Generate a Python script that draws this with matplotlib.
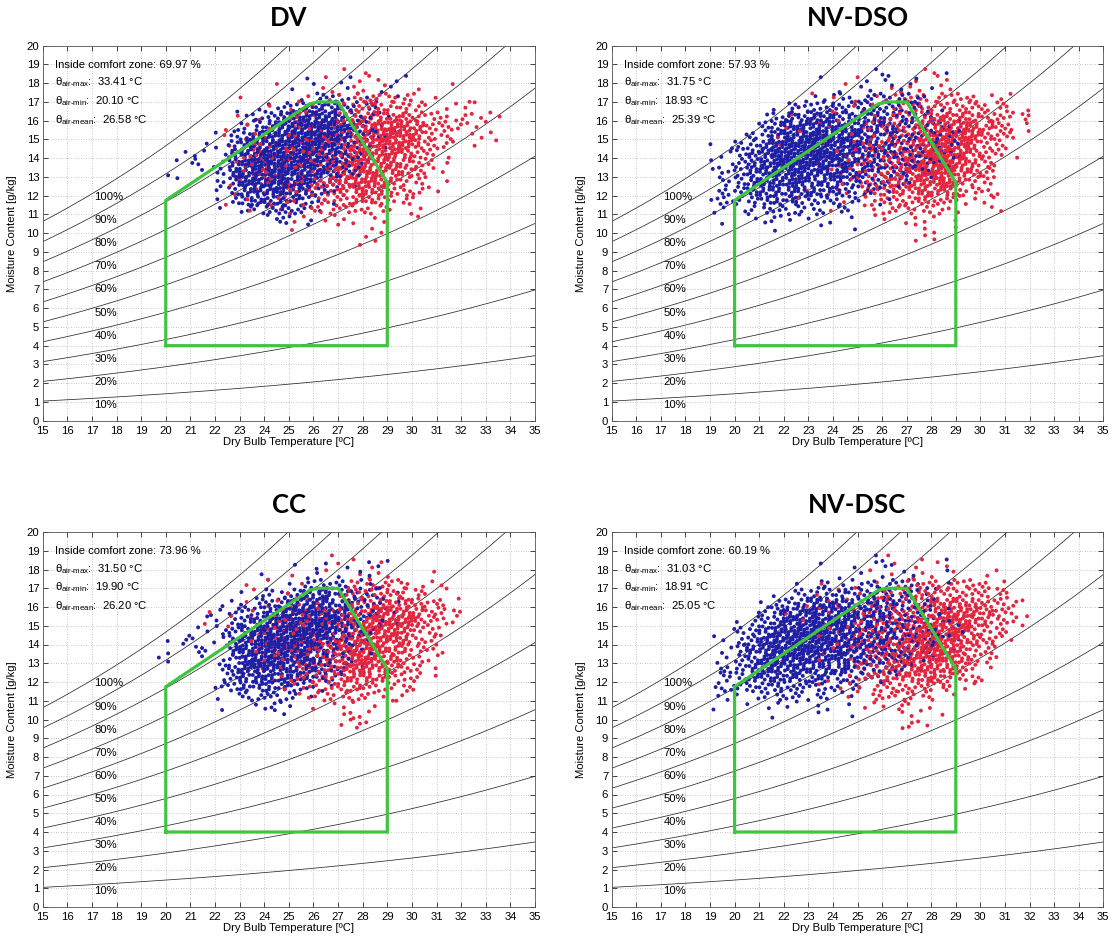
"""
Psychrometric charts of indoor air states for four ventilation strategies.
"""

import numpy as np
import matplotlib.pyplot as plt

plt.rcParams.update({
    'font.family': 'Liberation Sans',
    'font.size': 8.1,
    'mathtext.fontset': 'custom',
    'mathtext.rm': 'Liberation Sans',
    'mathtext.it': 'Liberation Sans:italic',
    'mathtext.bf': 'Liberation Sans:bold',
})

BLUE = '#1f1fa5'
RED = '#e3263f'
GREEN = '#3ec43e'

# relative humidity curves and their labels
RH_LEVELS = [10, 20, 30, 40, 50, 60, 70, 80, 90, 100]
RH_LABEL_Y = [0.85, 2.08, 3.31, 4.54, 5.77, 7.0, 8.23, 9.46, 10.69, 11.92]

# comfort zone outline (T [C], w [g/kg])
COMFORT_T = [20, 29, 29, 27, 26.2, 25.85, 20, 20]
COMFORT_W = [4, 4, 12.7, 17.0, 17.0, 16.9, 11.75, 4]

PANELS = ['DV', 'NV-DSO', 'CC', 'NV-DSC']
COMFORT_SHARE = [69.97, 57.93, 73.96, 60.19]
T_MAX = [33.41, 31.75, 31.50, 31.03]
T_MIN = [20.10, 18.93, 19.90, 18.91]
T_MEAN = [26.58, 25.39, 26.20, 25.05]

# hourly air states: density level (0-9) per 0.5 C x 0.5 g/kg cell read off the
# charts. columns start at 19.0 C, rows start at 18.5 g/kg going down
CELL = 0.5
T0 = 19.0
W_TOP = 18.5
POINTS_PER_LEVEL = 1.5

DV_BLUE = [
    "..... ..... ..... ..... ..... .....",
    "..... ..... ...1. .11.. 11... .....",
    "..... ..... ..1.1 .1..1 1.... .....",
    "..... ..... ...12 22111 1.... .....",
    "..... ....1 12345 53221 ..... .....",
    "..... ..112 34567 64321 1.... .....",
    "..... ..123 56789 86321 1.... .....",
    "..... .1235 67899 96322 1.... .....",
    "..... 11356 78899 85321 ..... .....",
    "...11 11467 88888 6431. ..... .....",
    "..1.2 11578 98887 6421. ..... .....",
    "..1.1 .2578 88876 532.. ..... .....",
    "..1.. .2467 88765 421.. ..... .....",
    "..... .1356 77653 21... ..... .....",
    "..... .1244 55432 1.... ..... .....",
    "..... .1.22 34321 ..... ..... .....",
    "..... ..... 1311. ..... ..... .....",
    "..... ..... ...1. ..... ..... .....",
]
DV_RED = [
    "..... ..... ..... .1.1. ..... .....",
    "..... ..... ..... 1.111 ..... .....",
    "..... ..... .1..1 1.111 ..1.. 1....",
    "..... ...1. ..11. 11222 2211. .1...",
    "..... ..... 1.111 .2333 33211 111..",
    "..... ..1.1 .1211 12344 44322 12111",
    "..... .1.1. 11221 22456 66533 2111.",
    "..... .1.11 11222 23467 77532 1111.",
    "..... ..112 22222 23567 76432 1.11.",
    "..... ..122 22222 34566 65321 .....",
    "..... ..112 22222 34666 54321 .....",
    "..... ..112 22223 35676 54311 .....",
    "..... ..111 22223 45665 43211 .....",
    "..... ..1.1 11222 34554 33211 .....",
    "..... .1.1. 12112 23443 221.. .....",
    "..... ...1. 11112 22222 111.. .....",
    "..... ..... ..111 11111 ..1.. .....",
    "..... ..... ..1.. .1.11 ..... .....",
    "..... ..... ..... ...11 ..... .....",
    "..... ..... ..... ..1.. ..... .....",
]

NVDSO_BLUE = [
    "..... ..... ...1. ....1 ..... .....",
    "..... ....1 ..1.2 .1... ..... .....",
    "..... ..... 1.111 11.1. ..... .....",
    "..... ..111 21222 221.. ..... .....",
    "..... 12233 33333 2211. ..... .....",
    "....1 24455 54444 3221. ..... .....",
    "...12 46676 65554 32221 1.... .....",
    "..123 57787 76554 33222 1.... .....",
    "11235 78888 76554 33222 1.... .....",
    "11346 88888 76544 33322 1.... .....",
    "11346 88887 76543 33221 ..... .....",
    "21356 77776 65443 3221. ..... .....",
    "12356 66655 54332 211.. ..... .....",
    "12345 55544 43221 1.... ..... .....",
    "22234 44333 22111 ..... ..... .....",
    "11122 22221 21... ..... ..... .....",
    "1..11 21111 .1... ..... ..... .....",
    "..... 1...1 .1... ..... ..... .....",
]
NVDSO_RED = [
    "..... ..... ..... ..11. ..... .....",
    "..... ..... ..1.. .1.11 ..... .....",
    "..... ..... .1..1 11111 ..... .....",
    "..... ...1. 11.11 22222 22111 .....",
    "..... ..1.1 .1111 22233 33221 1....",
    "..... .1.1. 11112 22345 54332 2....",
    "..... .1.11 11222 22456 65432 1....",
    "..... 1.1.1 11222 33567 76432 1....",
    "..... 1..11 12223 34677 75321 .....",
    "..... ..1.1 12223 45788 64321 .....",
    "..... ...1. 11223 45798 6431. .....",
    "..... ....1 11223 45798 5421. .....",
    "..... ..... 11224 45676 4321. .....",
    "..... ..1.1 11234 44554 3221. .....",
    "..... ..1.. 1.123 33433 2111. .....",
    "..... ....1 ..112 22221 1.11. .....",
    "..... ..... ...11 11111 ..... .....",
    "..... ..... ..... .1111 ..... .....",
    "..... ..... ..... .111. ..... .....",
]

CC_BLUE = [
    "..... ..... ..... ..... ..... .....",
    "..... ..... ..1.1 11.11 1.... .....",
    "..... ....1 ...11 .111. ..... .....",
    "..... ..... 1.122 22111 ..... .....",
    "..... ...11 22344 43321 1.... .....",
    "..... .1112 34566 54322 1.... .....",
    "..... 11233 56788 75322 1.... .....",
    "..... 11245 67899 85322 1.... .....",
    "....1 12356 78898 74321 ..... .....",
    "..121 11467 88887 6431. ..... .....",
    "..1.2 11467 88876 5321. ..... .....",
    ".11.1 .1367 88775 421.. ..... .....",
    "..... .2467 77654 321.. ..... .....",
    "..... .1356 66543 21... ..... .....",
    "..... .2344 44321 1.... ..... .....",
    "..... .1122 3221. ..... ..... .....",
    "..... .1..1 211.. ..... ..... .....",
    "..... ..... 11... ..... ..... .....",
]
CC_RED = [
    "..... ..... ..... 1.1.. ..... .....",
    "..... ..... ..... .1.11 ..... .....",
    "..... ..... ..1.. 1.111 1..1. .....",
    "..... ...1. 1..1. .1222 22111 .....",
    "..... ....1 .11.1 .2333 32211 .....",
    "..... ...1. 11111 12344 44322 1....",
    "..... 1.1.1 11222 23456 65432 2....",
    "..... 1..11 12222 23567 76432 1....",
    "..... ..111 22222 34567 65321 .....",
    "..... ...11 22223 35677 64321 .....",
    "..... ...12 22223 45676 54221 .....",
    "..... ...11 12233 45776 53211 .....",
    "..... ....1 11233 45665 4321. .....",
    "..... ..... 11223 34554 3221. .....",
    "..... ..... .1122 33432 221.. .....",
    "..... ..... ..112 22221 11... .....",
    "..... ..... ...1. 1111. 1.... .....",
    "..... ..... ..... .121. ..... .....",
    "..... ..... ..... .121. ..... .....",
]

NVDSC_BLUE = [
    "..... ..... ...1. ....1 ..... .....",
    "..... ....1 .1.12 ..... ..... .....",
    "..... ..... 1.1.1 11..1 ..... .....",
    "..... ..112 11222 221.1 ..... .....",
    "..... 11233 33333 2211. ..... .....",
    "....1 23455 54444 3221. ..... .....",
    "...12 45676 65554 32211 ..... .....",
    "..123 56787 76554 33221 1.... .....",
    ".1235 67888 76554 33221 1.... .....",
    "11246 78888 76544 33221 1.... .....",
    "11346 88887 76543 33211 ..... .....",
    "11346 77776 65443 3221. ..... .....",
    "12356 66655 54332 211.. ..... .....",
    "12345 55444 33221 1.... ..... .....",
    "22233 43332 2211. ..... ..... .....",
    "11112 22212 11... ..... ..... .....",
    "1..11 11111 .1... ..... ..... .....",
    "..... 1..1. .1... ..... ..... .....",
]
NVDSC_RED = [
    "..... ..... ....1 ..1.. ..... .....",
    "..... ..... ..... 11.11 ..... .....",
    "..... ..... ...11 .1111 ..11. .....",
    "..... ....1 .1.1. 12222 2221. .....",
    "..... ...1. 1.112 22333 33221 .....",
    "..... ..1.1 11122 23345 54332 1....",
    "..... .1.11 12222 33456 65432 1....",
    "..... ..1.1 11223 34567 65422 1....",
    "..... .1.11 12233 45677 64321 .....",
    "..... ...11 12234 56787 54321 .....",
    "..... ....1 12234 56887 5321. .....",
    "..... ...1. 11234 56786 4321. .....",
    "..... ..... 11234 45665 421.. .....",
    "..... ....1 .1234 44543 321.. .....",
    "..... ...1. 11123 33322 11... .....",
    "..... ..... .1122 22211 ..... .....",
    "..... ..... ..111 211.. ..... .....",
    "..... ..... ..... 1111. ..... .....",
    "..... ..... ..... 121.. ..... .....",
]

CLOUDS = [(DV_BLUE, DV_RED), (NVDSO_BLUE, NVDSO_RED),
          (CC_BLUE, CC_RED), (NVDSC_BLUE, NVDSC_RED)]


def cells_to_points(rows):
    # spread the points of each cell over the cell area
    a1, a2 = 0.7548776662, 0.5698402910
    ts, ws = [], []
    k = 0
    for i, row in enumerate(rows):
        for j, ch in enumerate(row.replace(' ', '')):
            if ch == '.':
                continue
            for _ in range(int(int(ch) * POINTS_PER_LEVEL)):
                ts.append(T0 + (j + (0.5 + a1 * k) % 1) * CELL)
                ws.append(W_TOP - i * CELL + ((0.5 + a2 * k) % 1) * CELL)
                k += 1
    return np.array(ts), np.array(ws)


def moisture(t, rh):
    pws = 0.61094 * np.exp(17.625 * t / (t + 243.04))
    pv = rh / 100 * pws
    return 622 * pv / (101.325 - pv)


def draw_panel(ax, idx):
    t = np.linspace(15, 35, 200)
    for rh in RH_LEVELS:
        ax.plot(t, moisture(t, rh), color='#2a2a2a', linewidth=0.55, zorder=2)
    for rh, y in zip(RH_LEVELS, RH_LABEL_Y):
        ax.text(17.1, y, f'{rh}%', va='center', ha='left', zorder=3)

    blue, red = CLOUDS[idx]
    bt, bw = cells_to_points(blue)
    rt, rw = cells_to_points(red)
    t_all = np.concatenate([bt, rt])
    w_all = np.concatenate([bw, rw])
    cols = np.array([BLUE] * len(bt) + [RED] * len(rt))
    order = np.argsort((np.arange(len(t_all)) * 0.618034) % 1)
    ax.scatter(t_all[order], w_all[order], s=8, c=cols[order], linewidths=0, zorder=4)

    ax.plot(COMFORT_T, COMFORT_W, color=GREEN, linewidth=2.3, zorder=5,
            solid_joinstyle='miter')

    ax.text(15.5, 18.8, f'Inside comfort zone: {COMFORT_SHARE[idx]:.2f} %', zorder=6)
    ax.text(15.5, 17.88, r'$\mathrm{θ}_{\mathrm{air\text{-}max}}$:  ' + f'{T_MAX[idx]:.2f} °C', zorder=6)
    ax.text(15.5, 16.88, r'$\mathrm{θ}_{\mathrm{air\text{-}min}}$:  ' + f'{T_MIN[idx]:.2f} °C', zorder=6)
    ax.text(15.5, 15.88, r'$\mathrm{θ}_{\mathrm{air\text{-}mean}}$:  ' + f'{T_MEAN[idx]:.2f} °C', zorder=6)

    ax.set_xlim(15, 35)
    ax.set_ylim(0, 20)
    ax.set_xticks(range(15, 36))
    ax.set_yticks(range(0, 21))
    ax.tick_params(direction='in', top=True, right=True, length=3.5, width=0.5)
    ax.tick_params(axis='x', pad=3.5)
    ax.tick_params(axis='y', pad=2.5)
    ax.grid(True, linestyle=(0, (1, 2)), color='#b5b5b5', linewidth=0.6, zorder=0)
    ax.set_axisbelow(True)
    for sp in ax.spines.values():
        sp.set_color('#555555')
        sp.set_linewidth(0.6)
    ax.set_xlabel('Dry Bulb Temperature [ºC]', labelpad=1)
    ax.set_ylabel('Moisture Content [g/kg]')
    ax.yaxis.set_label_coords(-0.053, 0.5)


W, H = 1113, 940
fig = plt.figure(figsize=(W / 100, H / 100), dpi=100)
lefts = [42.7, 611.7, 42.7, 611.7]
tops = [45.7, 45.7, 532.0, 532.0]
widths = [492.3, 491.6, 492.3, 491.6]
title_y = [18, 18, 505, 505]
for i, name in enumerate(PANELS):
    ax = fig.add_axes([lefts[i] / W, 1 - (tops[i] + 375) / H, widths[i] / W, 375 / H])
    draw_panel(ax, i)
    fig.text((lefts[i] + widths[i] / 2) / W, 1 - title_y[i] / H, name,
             ha='center', va='center', fontsize=18.5, fontweight='bold', family='Lato')

fig.savefig('out.png', dpi=100)
